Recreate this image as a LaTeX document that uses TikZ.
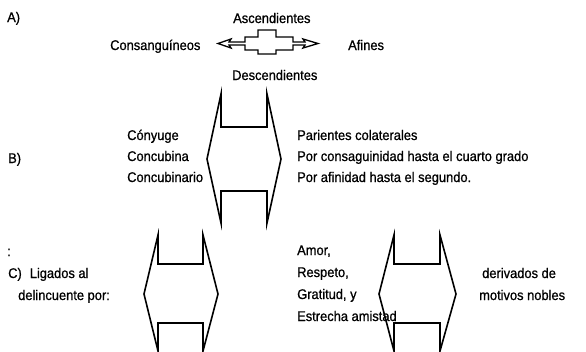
\documentclass[tikz,border=0pt]{standalone}
\usepackage{fontspec}
\setmainfont{Liberation Sans}[FakeStretch=0.92,FakeBold=0.8]
\begin{document}
\begin{tikzpicture}[x=1pt,y=-1pt,
  txt/.style={anchor=base west, inner sep=0pt, font=\fontsize{14}{16}\selectfont},
  brk/.style={draw=black, line width=1.6pt, line join=miter, miter limit=20}]
\useasboundingbox (0,0) rectangle (586,351);
% Section A
\node[txt] (lA) at (7,22) {A)};
\node[txt] (asc) at (233,23) {Ascendientes};
\node[txt] (cons) at (110,50) {Consanguíneos};
\node[txt] (afi) at (348,50) {Afines};
\node[txt] (desc) at (232,80) {Descendientes};
\draw[brk, line width=1.3pt] (218,43.5) -- (231,39) -- (229,42) -- (245,42) -- (245,37) -- (258,37) -- (258,30) -- (276,30) -- (276,37) -- (293,37) -- (293,42) -- (305,42) -- (303,39) -- (318,43.5) -- (303,48) -- (305,45) -- (293,45) -- (293,50) -- (276,50) -- (276,54) -- (258,54) -- (258,50) -- (245,50) -- (245,45) -- (229,45) -- (231,48) -- cycle;
% Section B
\node[txt] (lB) at (8,163) {B)};
\node[txt] (b1) at (127,140) {Cónyuge};
\node[txt] (b2) at (127,161) {Concubina};
\node[txt] (b3) at (127,182) {Concubinario};
\node[txt] (r1) at (297,140) {Parientes colaterales};
\node[txt] (r2) at (297,161) {Por consaguinidad hasta el cuarto grado};
\node[txt] (r3) at (297,182) {Por afinidad hasta el segundo.};
\draw[brk] (221,94) -- (221,127) -- (267,127) -- (267,94) -- (281,159) -- (267,223) -- (267,191) -- (221,191) -- (221,223) -- (207,159) -- cycle;
% Section C
\node[txt] (colon) at (7,256) {:};
\node[txt] (lC) at (8,278) {C)\hspace{8pt}Ligados al};
\node[txt] (c2) at (18,300) {delincuente por:};
\node[txt] (m1) at (297,255) {Amor,};
\node[txt] (m2) at (297,277) {Respeto,};
\node[txt] (m3) at (297,299) {Gratitud, y};
\node[txt] (m4) at (297,321) {Estrecha amistad};
\node[txt] (d1) at (482,278) {derivados de};
\node[txt] (d2) at (479,300) {motivos nobles};
\draw[brk] (158,235) -- (158,264) -- (203,264) -- (203,235) -- (218,294) -- (203,351) -- (203,323) -- (158,323) -- (158,351) -- (144,294) -- cycle;
\draw[brk] (394,235) -- (394,264) -- (440,264) -- (440,235) -- (456,294) -- (440,351) -- (440,323) -- (394,323) -- (394,351) -- (379,294) -- cycle;
\end{tikzpicture}
\end{document}
